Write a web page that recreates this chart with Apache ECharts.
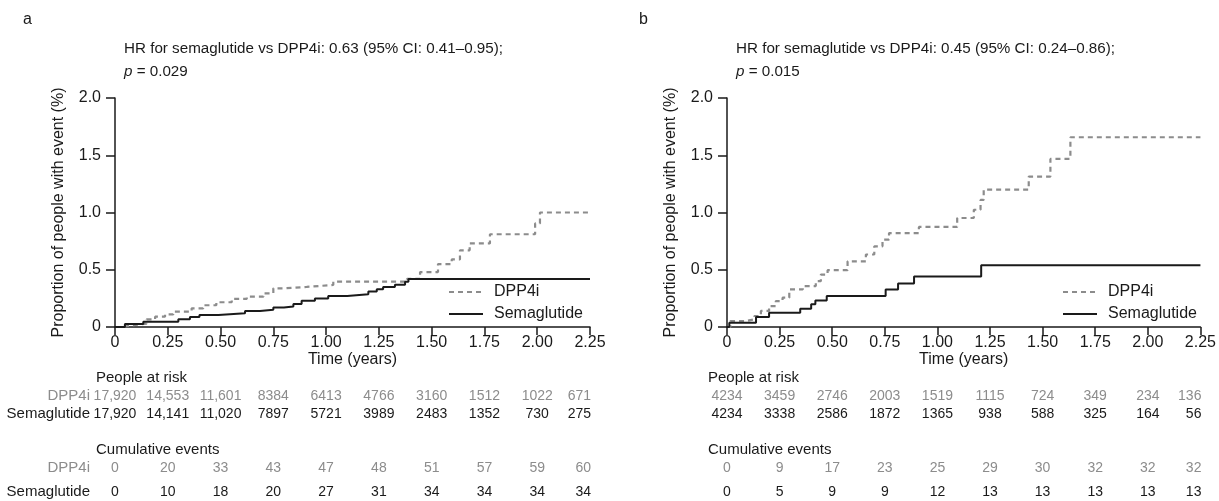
<!DOCTYPE html>
<html><head><meta charset="utf-8">
<script src="https://cdn.jsdelivr.net/npm/echarts@6/dist/echarts.min.js"></script>
<style>html,body{margin:0;padding:0;background:#fff}#c{width:1219px;height:501px}</style>
</head><body><div id="c"></div>
<script>
// ---- data ----
const xTicks = [0, 0.25, 0.5, 0.75, 1.0, 1.25, 1.5, 1.75, 2.0, 2.25];
const yTicks = [0, 0.5, 1.0, 1.5, 2.0];

// Panel a step curves (time in years, cumulative %)
const aDppT  = [0, 0.024, 0.087, 0.15, 0.19, 0.237, 0.276, 0.363, 0.418, 0.48, 0.553, 0.624, 0.703, 0.75, 0.797, 0.908, 1.034, 1.383, 1.445, 1.53, 1.595, 1.634, 1.68, 1.776, 1.99, 2.013, 2.25];
const aDppV  = [0, 0.015, 0.03, 0.067, 0.09, 0.11, 0.134, 0.163, 0.19, 0.216, 0.245, 0.265, 0.294, 0.338, 0.35, 0.367, 0.396, 0.42, 0.48, 0.55, 0.59, 0.67, 0.73, 0.81, 0.905, 1.0, 1.0];
const aSemT  = [0, 0.047, 0.134, 0.30, 0.355, 0.40, 0.49, 0.616, 0.687, 0.75, 0.80, 0.845, 0.884, 0.947, 1.01, 1.10, 1.20, 1.24, 1.27, 1.326, 1.374, 1.39, 2.25];
const aSemV  = [0, 0.026, 0.046, 0.067, 0.087, 0.105, 0.12, 0.14, 0.15, 0.17, 0.18, 0.20, 0.23, 0.25, 0.27, 0.285, 0.31, 0.33, 0.35, 0.37, 0.395, 0.42, 0.42];

// Panel b step curves
const bDppT  = [0, 0.016, 0.09, 0.13, 0.161, 0.20, 0.232, 0.264, 0.296, 0.36, 0.422, 0.446, 0.478, 0.573, 0.66, 0.70, 0.739, 0.77, 0.912, 1.094, 1.173, 1.205, 1.22, 1.434, 1.537, 1.632, 2.25];
const bDppV  = [0, 0.052, 0.067, 0.096, 0.14, 0.183, 0.226, 0.256, 0.328, 0.357, 0.40, 0.458, 0.496, 0.574, 0.633, 0.705, 0.763, 0.82, 0.874, 0.952, 1.024, 1.11, 1.2, 1.314, 1.468, 1.657, 1.657];
const bSemT  = [0, 0.011, 0.138, 0.20, 0.348, 0.40, 0.42, 0.474, 0.754, 0.813, 0.889, 1.208, 2.25];
const bSemV  = [0, 0.038, 0.087, 0.125, 0.16, 0.198, 0.232, 0.27, 0.328, 0.38, 0.44, 0.54, 0.54];

// Tables
const aRiskDpp = ['17,920', '14,553', '11,601', '8384', '6413', '4766', '3160', '1512', '1022', '671'];
const aRiskSem = ['17,920', '14,141', '11,020', '7897', '5721', '3989', '2483', '1352', '730', '275'];
const aEvtDpp  = [0, 20, 33, 43, 47, 48, 51, 57, 59, 60];
const aEvtSem  = [0, 10, 18, 20, 27, 31, 34, 34, 34, 34];
const bRiskDpp = ['4234', '3459', '2746', '2003', '1519', '1115', '724', '349', '234', '136'];
const bRiskSem = ['4234', '3338', '2586', '1872', '1365', '938', '588', '325', '164', '56'];
const bEvtDpp  = [0, 9, 17, 23, 25, 29, 30, 32, 32, 32];
const bEvtSem  = [0, 5, 9, 9, 12, 13, 13, 13, 13, 13];

const titleA = ['HR for semaglutide vs DPP4i: 0.63 (95% CI: 0.41\u20130.95);', '0.029'];
const titleB = ['HR for semaglutide vs DPP4i: 0.45 (95% CI: 0.24\u20130.86);', '0.015'];

// ---- chart ----
const FONT = "'Liberation Sans', Arial, sans-serif";
const GREY = '#8c8c8c';
const BLACK = '#1a1a1a';
const zip = (t, v) => t.map((x, i) => [x, v[i]]);
const chart = echarts.init(document.getElementById('c'), null, {renderer: 'canvas'});

const grids = [
  {left: 115, top: 98, width: 475, height: 229},
  {left: 727, top: 98, width: 474, height: 229}
];

function xAxis(gi) {
  return {
    type: 'value', gridIndex: gi, min: xTicks[0], max: xTicks[xTicks.length - 1], interval: 0.25,
    name: 'Time (years)', nameLocation: 'middle', nameGap: 20,
    nameTextStyle: {fontSize: 16, color: BLACK, fontFamily: FONT},
    axisLine: {show: true, lineStyle: {color: BLACK, width: 1.5}},
    axisTick: {show: true, length: 8, lineStyle: {color: BLACK, width: 1.5}},
    axisLabel: {fontSize: 16, color: BLACK, fontFamily: FONT, margin: 8,
      formatter: v => v === 0 ? '0' : v.toFixed(2)},
    splitLine: {show: false}
  };
}
function yAxis(gi) {
  return {
    type: 'value', gridIndex: gi, min: yTicks[0], max: yTicks[yTicks.length - 1], interval: 0.5,
    name: 'Proportion of people with event (%)', nameLocation: 'middle', nameGap: 48, nameRotate: 90,
    nameTextStyle: {fontSize: 16, color: BLACK, fontFamily: FONT},
    axisLine: {show: true, lineStyle: {color: BLACK, width: 1.5}},
    axisTick: {show: true, length: 9, lineStyle: {color: BLACK, width: 1.5}},
    axisLabel: {fontSize: 16, color: BLACK, fontFamily: FONT, margin: 14,
      formatter: v => v === 0 ? '0' : v.toFixed(1)},
    splitLine: {show: false}
  };
}
function line(name, gi, data, dashed) {
  return {
    name, type: 'line', xAxisIndex: gi, yAxisIndex: gi, step: 'end', symbol: 'none', showSymbol: false,
    data, animation: false,
    lineStyle: dashed ? {color: GREY, width: 2.2, type: [5, 4]} : {color: BLACK, width: 2},
    itemStyle: {color: dashed ? GREY : BLACK}
  };
}
function legend(left) {
  return {
    left, top: 284, padding: 0, orient: 'vertical', itemWidth: 34, itemHeight: 14, itemGap: 6,
    selectedMode: false, data: ['DPP4i', 'Semaglutide'],
    itemStyle: {opacity: 0},
    textStyle: {fontSize: 16, color: BLACK, fontFamily: FONT, padding: [0, 0, 0, 6]}
  };
}
function title(left, t) {
  return {
    left, top: 37, padding: 0,
    text: t[0] + '\n{i|p} = ' + t[1],
    textStyle: {fontSize: 15.2, fontWeight: 'normal', color: BLACK, fontFamily: FONT, lineHeight: 23,
      rich: {i: {fontStyle: 'italic', fontSize: 15.2, color: BLACK, fontFamily: FONT, lineHeight: 23}}}
  };
}
const letter = (left, s) => ({left, top: 12, padding: 0, text: s,
  textStyle: {fontSize: 16, fontWeight: 'normal', color: BLACK, fontFamily: FONT}});

chart.setOption({
  animation: false,
  backgroundColor: '#fff',
  grid: grids,
  xAxis: [xAxis(0), xAxis(1)],
  yAxis: [yAxis(0), yAxis(1)],
  title: [title(124, titleA), title(736, titleB), letter(23, 'a'), letter(639, 'b')],
  legend: [legend(448), legend(1062)],
  series: [
    line('DPP4i', 0, zip(aDppT, aDppV), true),
    line('Semaglutide', 0, zip(aSemT, aSemV), false),
    line('DPP4i', 1, zip(bDppT, bDppV), true),
    line('Semaglutide', 1, zip(bSemT, bSemV), false)
  ]
});

// ---- risk tables positioned by the x-axis scale ----
const rowY = {hdr1: 378, r1: 396, r2: 414, hdr2: 450, r3: 468, r4: 492};
const g = [];
function txt(x, y, s, color, align, size) {
  g.push({type: 'text', x, y, style: {text: String(s), fill: color, font: (size || 14) + 'px ' + FONT,
    textAlign: align || 'center', textVerticalAlign: 'middle'}});
}
function tableRow(gi, vals, y, color) {
  vals.forEach((v, i) => {
    const px = chart.convertToPixel({gridIndex: gi}, [xTicks[i], 0])[0];
    const last = i === vals.length - 1;
    txt(last ? px + 1 : px, y, v, color, last ? 'right' : 'center');
  });
}
[[0, aRiskDpp, aRiskSem, aEvtDpp, aEvtSem], [1, bRiskDpp, bRiskSem, bEvtDpp, bEvtSem]].forEach(([gi, rd, rs, ed, es]) => {
  const x0 = chart.convertToPixel({gridIndex: gi}, [0, 0])[0];
  txt(x0 - 19, rowY.hdr1, 'People at risk', BLACK, 'left', 15);
  txt(x0 - 19, rowY.hdr2, 'Cumulative events', BLACK, 'left', 15);
  tableRow(gi, rd, rowY.r1, GREY);
  tableRow(gi, rs, rowY.r2, BLACK);
  tableRow(gi, ed, rowY.r3, GREY);
  tableRow(gi, es, rowY.r4, BLACK);
});
const xa = chart.convertToPixel({gridIndex: 0}, [0, 0])[0];
txt(xa - 25, rowY.r1, 'DPP4i', GREY, 'right', 15);
txt(xa - 25, rowY.r2, 'Semaglutide', BLACK, 'right', 15);
txt(xa - 25, rowY.r3, 'DPP4i', GREY, 'right', 15);
txt(xa - 25, rowY.r4, 'Semaglutide', BLACK, 'right', 15);
chart.setOption({graphic: g});
</script>
</body></html>
